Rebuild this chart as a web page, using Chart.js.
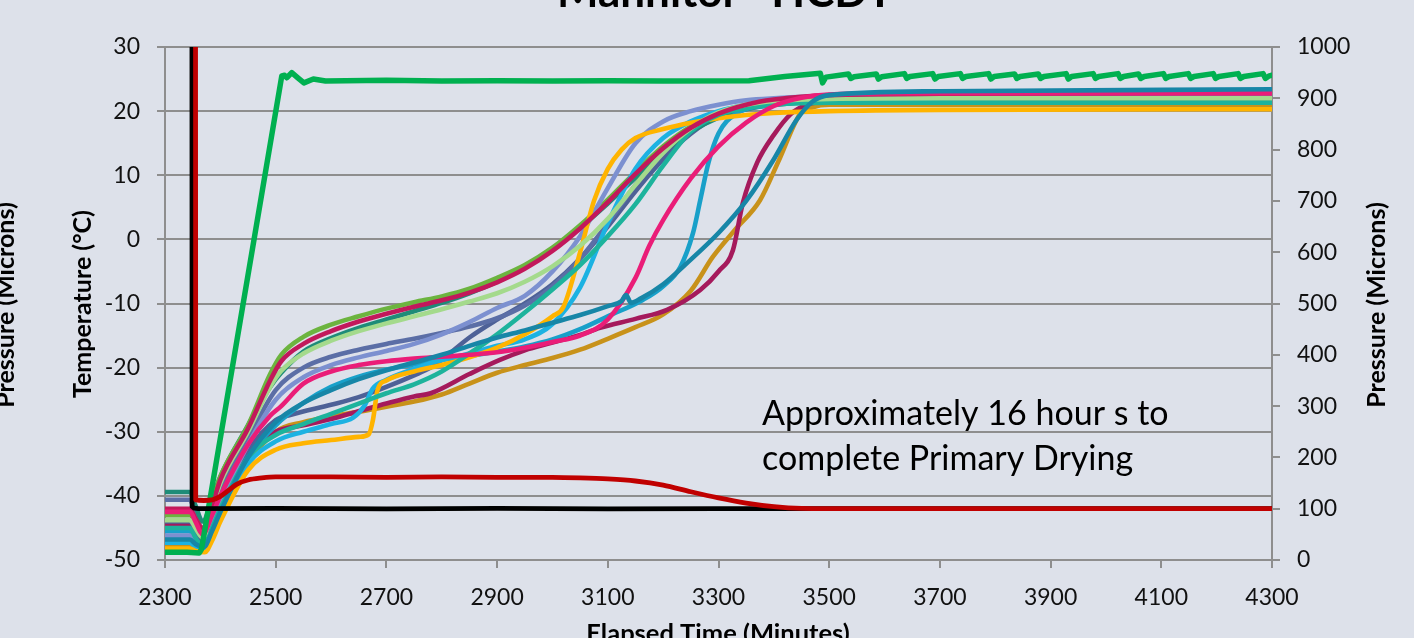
<!DOCTYPE html>
<html>
<head>
<meta charset="utf-8">
<script src="https://cdn.jsdelivr.net/npm/chart.js@4.4.0/dist/chart.umd.min.js"></script>
<style>
  html, body { margin: 0; padding: 0; background: #dde1ea; }
  #wrap { width: 1414px; height: 638px; overflow: hidden; }
</style>
</head>
<body>
<div id="wrap"><canvas id="chart" width="1414" height="638"></canvas></div>
<script>
// ---- text ----
const chartTitle = 'Mannitol - HCDT';
const xTitle = 'Elapsed Time (Minutes)';
const yTitle = 'Temperature (°C)';
const y2Title = 'Pressure (Microns)';
const noteLines = ['Approximately 16 hour s to', 'complete Primary Drying'];

// ---- tick values ----
const xTicks = [2300, 2500, 2700, 2900, 3100, 3300, 3500, 3700, 3900, 4100, 4300];
const yTicks = [-50, -40, -30, -20, -10, 0, 10, 20, 30];
const y2Ticks = [0, 100, 200, 300, 400, 500, 600, 700, 800, 900, 1000];

// ---- chamber pressure, microns [minutes, microns] ----
const piraniPressure = [[2354.5, 3000], [2355.5, 117], [2370, 116], [2385, 117], [2400, 124], [2415, 136],
  [2430, 148], [2450, 156], [2475, 160], [2500, 162], [2600, 162], [2700, 161], [2800, 162], [2900, 161],
  [3000, 161], [3050, 160], [3100, 158], [3150, 154], [3200, 146], [3250, 133], [3300, 121], [3350, 111],
  [3400, 104], [3450, 100.5], [3500, 100], [3700, 100], [4300, 100]];
const cmPressure = [[2348, 3000], [2349, 104], [2353, 101], [2360, 100], [2500, 100.5], [2700, 99.5],
  [2900, 100.5], [3100, 99.6], [3300, 100.3], [3500, 100], [4300, 100]];

// ---- shelf temperature, °C [minutes, °C] ----
const shelfTemp = [[2300, -48.8], [2340, -48.8], [2362, -48.9], [2366, -48.3], [2511, 25.5], [2516, 25.6],
  [2520, 25.2], [2529, 26], [2540, 25.2], [2551, 24.4], [2568, 25], [2590, 24.7], [2700, 24.8], [2800, 24.7],
  [2900, 24.75], [3000, 24.7], [3100, 24.75], [3200, 24.7], [3355, 24.75], [3420, 25.4], [3484, 25.9],
  [3488, 24.4], [3494, 25.3], [3535, 25.8], [3539, 25.1], [3545, 25.35], [3585, 25.8], [3589, 25.0],
  [3595, 25.35], [3636, 25.85], [3640, 25.1], [3646, 25.4], [3687, 25.85], [3691, 25.0], [3697, 25.4],
  [3737, 25.85], [3741, 25.1], [3747, 25.4], [3788, 25.85], [3792, 25.0], [3798, 25.4], [3835, 25.8],
  [3839, 25.1], [3845, 25.4], [3878, 25.8], [3882, 25.1], [3888, 25.4], [3928, 25.85], [3932, 25.0],
  [3938, 25.4], [3977, 25.85], [3981, 25.1], [3987, 25.4], [4022, 25.85], [4026, 25.1], [4032, 25.4],
  [4059, 25.8], [4063, 25.1], [4069, 25.4], [4104, 25.85], [4108, 25.1], [4114, 25.4], [4149, 25.85],
  [4153, 25.1], [4159, 25.4], [4194, 25.85], [4198, 25.1], [4204, 25.4], [4239, 25.85], [4243, 25.1],
  [4249, 25.4], [4284, 25.85], [4288, 25.1], [4294, 25.45], [4300, 25.6]];

// ---- product thermocouples, °C [minutes, °C] ----
const tcLime = [[2300, -43], [2345, -43], [2355, -44], [2368, -45.5], [2385, -41], [2400, -37], [2450, -29],
  [2490, -21], [2510, -18], [2550, -15.2], [2600, -13.3], [2650, -12], [2700, -10.8], [2750, -9.8], [2800, -8.9],
  [2850, -7.7], [2900, -6], [2950, -4], [3000, -1.3], [3050, 2.2], [3100, 6.2], [3150, 10.5], [3200, 14.5],
  [3250, 17.6], [3300, 19.6], [3350, 20.8], [3400, 21.5], [3500, 22], [3700, 22.2], [4300, 22.3]];
const tcCrimson = [[2300, -42], [2345, -42], [2355, -43.5], [2368, -45], [2385, -41.5], [2400, -37.5], [2450, -29.5],
  [2490, -22], [2510, -19], [2550, -16.3], [2600, -14.3], [2650, -12.8], [2700, -11.6], [2750, -10.5], [2800, -9.5],
  [2850, -8.3], [2900, -6.7], [2950, -4.6], [3000, -1.8], [3050, 1.7], [3100, 5.8], [3150, 10.2], [3200, 14.2],
  [3250, 17.4], [3300, 19.6], [3350, 21], [3400, 21.8], [3500, 22.5], [3700, 22.7], [4300, 22.8]];
const tcLightGreen = [[2300, -43.8], [2345, -43.8], [2355, -45], [2368, -46.5], [2385, -42], [2400, -38], [2450, -30],
  [2490, -23], [2510, -20.5], [2550, -17.8], [2600, -15.8], [2650, -14.3], [2700, -13.1], [2750, -12], [2800, -10.9],
  [2850, -9.7], [2900, -8.4], [2950, -6.6], [3000, -4.2], [3050, -1], [3100, 3.2], [3150, 8.5], [3200, 13.5],
  [3250, 17.3], [3300, 19.8], [3350, 21], [3400, 21.6], [3500, 21.9], [3700, 22], [4300, 22]];
const tcDarkTeal = [[2300, -39.4], [2345, -39.4], [2355, -41.5], [2368, -44], [2385, -40.5], [2400, -37], [2450, -29],
  [2490, -23], [2510, -20.8], [2550, -17.5], [2600, -15.4], [2650, -13.8], [2700, -12.5], [2750, -11.2], [2800, -9.9],
  [2850, -8.4], [2900, -6.6], [2950, -4.4], [3000, -1.6], [3050, 1.8], [3100, 5.6], [3150, 9.6], [3200, 13.6],
  [3250, 16.8], [3300, 19], [3350, 20.3], [3400, 21], [3500, 21.5], [3700, 21.7], [4300, 21.8]];
const tcSlate = [[2300, -40.6], [2345, -40.6], [2352, -42], [2365, -45.5], [2380, -43], [2400, -39], [2450, -31],
  [2500, -23.5], [2550, -20], [2600, -18.3], [2650, -17.2], [2700, -16.3], [2750, -15.5], [2800, -14.6],
  [2850, -13.6], [2900, -12.3], [2950, -10.3], [3000, -7.3], [3050, -3], [3100, 2.5], [3150, 8.5], [3200, 13.5],
  [3250, 17.2], [3300, 19.6], [3350, 20.8], [3400, 21.4], [3500, 21.9], [4300, 22.1]];
const tcPeriwinkle = [[2300, -46.2], [2345, -46.2], [2355, -47], [2368, -47.8], [2385, -44.5], [2400, -41], [2450, -32],
  [2500, -25], [2550, -21.5], [2600, -19.6], [2650, -18.4], [2700, -17.4], [2750, -16.3], [2800, -14.8],
  [2850, -12.9], [2900, -10.7], [2950, -8.8], [3000, -5], [3050, 0.5], [3100, 8], [3150, 15], [3200, 18.4],
  [3250, 20], [3300, 21], [3350, 21.7], [3400, 22], [3500, 22.3], [4300, 22.4]];
const tcDarkSlate = [[2300, -44], [2345, -44], [2355, -45.5], [2368, -47], [2385, -44], [2400, -41], [2450, -33],
  [2500, -28.2], [2526, -27.4], [2600, -25.8], [2650, -24.6], [2700, -23], [2750, -21.2], [2780, -20], [2800, -18.8],
  [2850, -15.3], [2900, -12.5], [2950, -10], [3000, -7], [3050, -3], [3100, 2], [3150, 7.5], [3200, 12.5],
  [3250, 16.5], [3300, 19.2], [3350, 20.6], [3400, 21.3], [3500, 21.8], [4300, 22]];
const tcPink = [[2300, -42.5], [2345, -42.5], [2355, -44], [2368, -46], [2385, -43], [2400, -40], [2450, -32],
  [2490, -27.5], [2510, -26], [2550, -22.5], [2600, -20.6], [2650, -19.6], [2700, -19], [2750, -18.6], [2800, -18.3],
  [2850, -18], [2900, -17.6], [2950, -16.9], [3000, -16], [3050, -15], [3100, -12.5], [3150, -6], [3175, -1],
  [3200, 3], [3250, 9.5], [3300, 14.5], [3350, 18.2], [3400, 20.8], [3450, 22.1], [3500, 22.6], [3700, 22.8],
  [4300, 22.8]];
const tcSky = [[2300, -47.3], [2345, -47.3], [2355, -48], [2370, -48.5], [2385, -46], [2400, -43], [2450, -35],
  [2500, -31.5], [2550, -30], [2600, -28.8], [2640, -27.8], [2660, -26], [2675, -23.3], [2700, -21.9], [2750, -20.2],
  [2780, -19.3], [2850, -17.8], [2900, -16.6], [2950, -15.6], [3000, -13.2], [3050, -7.5], [3100, 2.5], [3150, 11],
  [3200, 15.8], [3250, 18.4], [3300, 20], [3350, 21], [3400, 21.6], [3500, 22], [3700, 22.1], [4300, 22.2]];
const tcTealBlue = [[2300, -46.8], [2345, -46.8], [2355, -47.5], [2370, -48], [2385, -45.5], [2400, -42.5], [2450, -34],
  [2500, -28.5], [2550, -25.5], [2600, -23.5], [2650, -21.8], [2700, -20.4], [2750, -19.2], [2800, -18], [2850, -16.6],
  [2900, -15.3], [2950, -14.2], [3000, -13], [3050, -11.8], [3100, -10.4], [3125, -9.6], [3133, -8.7], [3142, -9.9],
  [3160, -9.2], [3200, -7], [3243, -3.7], [3300, 1], [3350, 6], [3400, 12.5], [3440, 18.5], [3470, 21.5],
  [3500, 22.5], [3700, 23.1], [4300, 23.4]];
const tcTealGreen = [[2300, -45], [2345, -45], [2355, -46.5], [2368, -48], [2385, -45], [2400, -42], [2450, -34],
  [2500, -30.5], [2550, -28.8], [2600, -27.2], [2650, -25.6], [2700, -24], [2750, -22.6], [2800, -20.6], [2850, -17.8],
  [2900, -14.8], [2950, -11.4], [3000, -7.8], [3050, -4], [3100, 0.5], [3150, 5.5], [3200, 11.5], [3250, 16.8],
  [3300, 19.4], [3350, 20.5], [3400, 21], [3500, 21.3], [4300, 21.3]];
const tcGold = [[2300, -48.2], [2345, -48.2], [2355, -48.6], [2372, -48.8], [2385, -47], [2400, -44], [2450, -36],
  [2500, -32.8], [2550, -31.8], [2600, -31.3], [2650, -30.8], [2668, -30.4], [2676, -28], [2684, -23.5], [2700, -22],
  [2750, -20.6], [2800, -19.6], [2850, -18.4], [2900, -16.9], [2950, -14.8], [3000, -12], [3020, -10.5], [3050, -2],
  [3075, 6], [3100, 11], [3125, 14], [3150, 15.8], [3200, 17.2], [3250, 18.2], [3300, 18.9], [3350, 19.4],
  [3400, 19.7], [3500, 20], [3700, 20.2], [4300, 20.3]];
const tcDarkGold = [[2300, -47.6], [2345, -47.6], [2355, -48.2], [2370, -48.5], [2385, -46.5], [2400, -43.5],
  [2450, -35], [2500, -30], [2550, -28.5], [2600, -27.6], [2650, -26.9], [2700, -26.1], [2750, -25.3], [2800, -24.2],
  [2850, -22.5], [2900, -20.8], [2950, -19.6], [3000, -18.5], [3050, -17.2], [3100, -15.5], [3150, -13.7],
  [3200, -11.7], [3250, -8], [3290, -2.7], [3330, 1.5], [3375, 6.1], [3410, 12.5], [3447, 19.5], [3470, 20.6],
  [3500, 21], [4300, 21]];
const tcDarkMagenta = [[2300, -44.5], [2345, -44.5], [2355, -46], [2368, -47.5], [2385, -45], [2400, -42],
  [2450, -33.5], [2500, -30], [2550, -29], [2600, -28], [2658, -26.6], [2700, -25.6], [2750, -24.5], [2780, -24],
  [2850, -21], [2905, -18.8], [2950, -17.3], [3000, -16.1], [3050, -14.9], [3086, -13.8], [3150, -12.4],
  [3207, -11], [3267, -7.9], [3300, -5], [3326, -1.7], [3344, 5.7], [3370, 12], [3400, 16.3], [3430, 19.5],
  [3460, 21], [3500, 21.6], [3700, 21.9], [4300, 22]];
const tcCyan = [[2300, -45.5], [2345, -45.5], [2355, -47], [2370, -48.2], [2385, -45.5], [2400, -42.5], [2450, -34],
  [2500, -29], [2550, -25.5], [2600, -23], [2650, -21.4], [2700, -20.3], [2750, -19.5], [2800, -18.8], [2850, -18.2],
  [2900, -17.5], [2950, -16.7], [3000, -15.6], [3050, -14], [3100, -12], [3164, -9.4], [3200, -7.3], [3231, -4.3],
  [3254, 1], [3267, 6.1], [3282, 12], [3300, 16.5], [3330, 19.5], [3400, 21], [3500, 21.7], [3700, 22], [4300, 22.2]];

const probes = [
  { label: 'TC teal blue', color: '#1786a7', data: tcTealBlue },
  { label: 'TC pink', color: '#ea1d78', data: tcPink },
  { label: 'TC crimson', color: '#c2185b', data: tcCrimson },
  { label: 'TC light green', color: '#a4da8c', data: tcLightGreen },
  { label: 'TC teal green', color: '#1db39c', data: tcTealGreen },
  { label: 'TC gold', color: '#ffb400', data: tcGold },
  { label: 'TC periwinkle', color: '#7c90d0', data: tcPeriwinkle },
  { label: 'TC sky', color: '#1cb2e2', data: tcSky },
  { label: 'TC cyan', color: '#18a0c9', data: tcCyan },
  { label: 'TC lime', color: '#6cb43f', data: tcLime },
  { label: 'TC dark teal', color: '#1e8c78', data: tcDarkTeal },
  { label: 'TC slate', color: '#5b6ea6', data: tcSlate },
  { label: 'TC dark slate', color: '#4e6197', data: tcDarkSlate },
  { label: 'TC dark magenta', color: '#a51a5c', data: tcDarkMagenta },
  { label: 'TC dark gold', color: '#c8921a', data: tcDarkGold }
];

const FONT = 'Lato';
const AXIS_GRAY = '#8e8e8e';

// solid page background behind the plot
const backgroundPlugin = {
  id: 'pageBackground',
  beforeDraw(chart) {
    const c = chart.ctx;
    c.save();
    c.fillStyle = '#dde1ea';
    c.fillRect(0, 0, chart.width, chart.height);
    c.restore();
  }
};

// titles, rotated axis names and the drying note
const textPlugin = {
  id: 'chartText',
  afterDraw(chart) {
    const c = chart.ctx;
    c.save();
    c.fillStyle = '#000';
    c.textAlign = 'center';
    c.textBaseline = 'alphabetic';

    c.font = `bold 44px ${FONT}`;
    c.fillText(chartTitle, 725, 7);

    c.font = `bold 25.5px ${FONT}`;
    c.fillText(xTitle, 718, 642);

    const vertical = (text, x, y) => {
      c.save();
      c.translate(x, y);
      c.rotate(-Math.PI / 2);
      c.fillText(text, 0, 0);
      c.restore();
    };
    c.font = `bold 25px ${FONT}`;
    vertical(yTitle, 91, 304);
    vertical(y2Title, 1385, 305);
    vertical(y2Title, 14, 305);

    c.font = `34px ${FONT}`;
    c.textAlign = 'left';
    noteLines.forEach((line, i) => c.fillText(line, 762, 425 + i * 45));
    c.restore();
  }
};

const tickFont = { family: FONT, size: 23 };
const setTicks = values => scale => { scale.ticks = values.map(v => ({ value: v })); };

const datasets = [
  { label: 'Pirani', data: piraniPressure, yAxisID: 'y2', borderColor: '#c00000', borderWidth: 4.8,
    cubicInterpolationMode: 'monotone' },
  { label: 'Capacitance manometer', data: cmPressure, yAxisID: 'y2', borderColor: '#000000', borderWidth: 4.8,
    tension: 0 },
  { label: 'Shelf', data: shelfTemp, yAxisID: 'y', borderColor: '#00b050', borderWidth: 5.5, tension: 0 },
  ...probes.map(p => ({ label: p.label, data: p.data, yAxisID: 'y', borderColor: p.color, borderWidth: 4.6,
    cubicInterpolationMode: 'monotone' }))
];

new Chart(document.getElementById('chart'), {
  type: 'line',
  data: { datasets },
  plugins: [backgroundPlugin, textPlugin],
  options: {
    responsive: false,
    animation: false,
    events: [],
    layout: { padding: { top: 47, left: 0, right: 0, bottom: 0 } },
    elements: { point: { radius: 0 }, line: { borderCapStyle: 'round', borderJoinStyle: 'round' } },
    plugins: { legend: { display: false }, tooltip: { enabled: false }, title: { display: false } },
    scales: {
      x: {
        type: 'linear', position: 'bottom', min: 2300, max: 4300,
        afterBuildTicks: setTicks(xTicks),
        afterFit: s => { s.height = 78; },
        ticks: { font: tickFont, color: '#111', padding: 16, maxRotation: 0, autoSkip: false, callback: v => String(v) },
        grid: { drawOnChartArea: false, drawTicks: true, tickLength: 8, color: AXIS_GRAY, lineWidth: 2 },
        border: { display: true, color: AXIS_GRAY, width: 2 }
      },
      y: {
        type: 'linear', position: 'left', min: -50, max: 30,
        afterBuildTicks: setTicks(yTicks),
        afterFit: s => { s.width = 165; },
        ticks: { font: tickFont, color: '#111', padding: 17, callback: v => String(v) },
        grid: { drawOnChartArea: true, drawTicks: true, tickLength: 8, color: AXIS_GRAY, lineWidth: 2 },
        border: { display: true, color: AXIS_GRAY, width: 2 }
      },
      y2: {
        type: 'linear', position: 'right', min: 0, max: 1000,
        afterBuildTicks: setTicks(y2Ticks),
        afterFit: s => { s.width = 142; },
        ticks: { font: tickFont, color: '#111', padding: 17, callback: v => String(v) },
        grid: { drawOnChartArea: false, drawTicks: true, tickLength: 8, color: AXIS_GRAY, lineWidth: 2 },
        border: { display: true, color: AXIS_GRAY, width: 2 }
      }
    }
  }
});
</script>
</body>
</html>
